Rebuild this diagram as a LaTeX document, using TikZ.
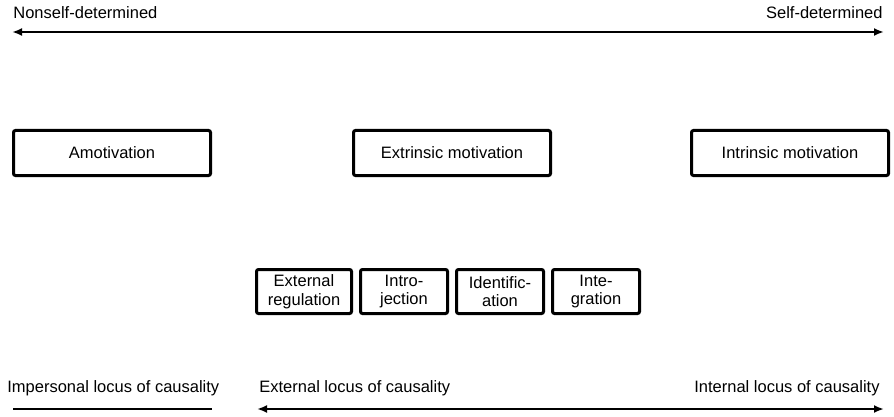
\documentclass[tikz,border=0pt]{standalone}
\usepackage{fontspec}
\setmainfont{Liberation Sans}
\usetikzlibrary{positioning}
\usepgflibrary{arrows.meta}

\tikzset{
	motbox/.style={draw, line width=1.5pt, rounded corners=1pt, inner sep=0pt,
		minimum width=98.5pt, minimum height=22.5pt, align=center},
	regbox/.style={draw, line width=1.5pt, rounded corners=1pt, inner sep=0pt,
		minimum width=43.5pt, minimum height=22pt, align=center,
		font=\fontsize{8.25}{9.3}\selectfont},
	axis/.style={line width=1.1pt, {Latex[length=5pt,width=4pt]}-{Latex[length=5pt,width=4pt]}}
}

\begin{document}
\begin{tikzpicture}[x=0.5pt, y=-0.5pt, font=\fontsize{8.25}{9.3}\selectfont]

		\useasboundingbox (0,0) rectangle (894,417);

		% scale of self-determination
		\coordinate (topL) at (12,32);
		\coordinate (topR) at (884,32);
		\draw [axis] (topL) -- (topR);
		\node [anchor=base west, inner sep=0pt] (nonself) at (13,19) {Nonself-determined};
		\node [anchor=base east, inner sep=0pt] (self) at (883,19) {Self-determined};

		% types of motivation
		\node [motbox] (amot) at (112,153) {Amotivation};
		\node [motbox] (extr) at (452,153) {Extrinsic motivation};
		\node [motbox] (intr) at (790,153) {Intrinsic motivation};

		% regulatory styles
		\node [regbox, minimum width=47.5pt] (extreg) at (304,291.5) {External\\regulation};
		\node [regbox, right=3pt of extreg] (introj) {Intro-\\jection};
		\node [regbox, right=3pt of introj] (ident) {Identific-\\ation};
		\node [regbox, right=3pt of ident] (integ) {Inte-\\gration};

		% locus of causality
		\node [anchor=base west, inner sep=0pt] (imploc) at (7,392) {Impersonal locus of causality};
		\node [anchor=base west, inner sep=0pt] (extloc) at (259,392) {External locus of causality};
		\node [anchor=base east, inner sep=0pt] (intloc) at (880,392) {Internal locus of causality};
		\coordinate (impL) at (13,409);
		\coordinate (impR) at (212,409);
		\coordinate (locL) at (257,409);
		\coordinate (locR) at (884,409);
		\draw [line width=1.1pt] (impL) -- (impR);
		\draw [axis] (locL) -- (locR);

\end{tikzpicture}
\end{document}
